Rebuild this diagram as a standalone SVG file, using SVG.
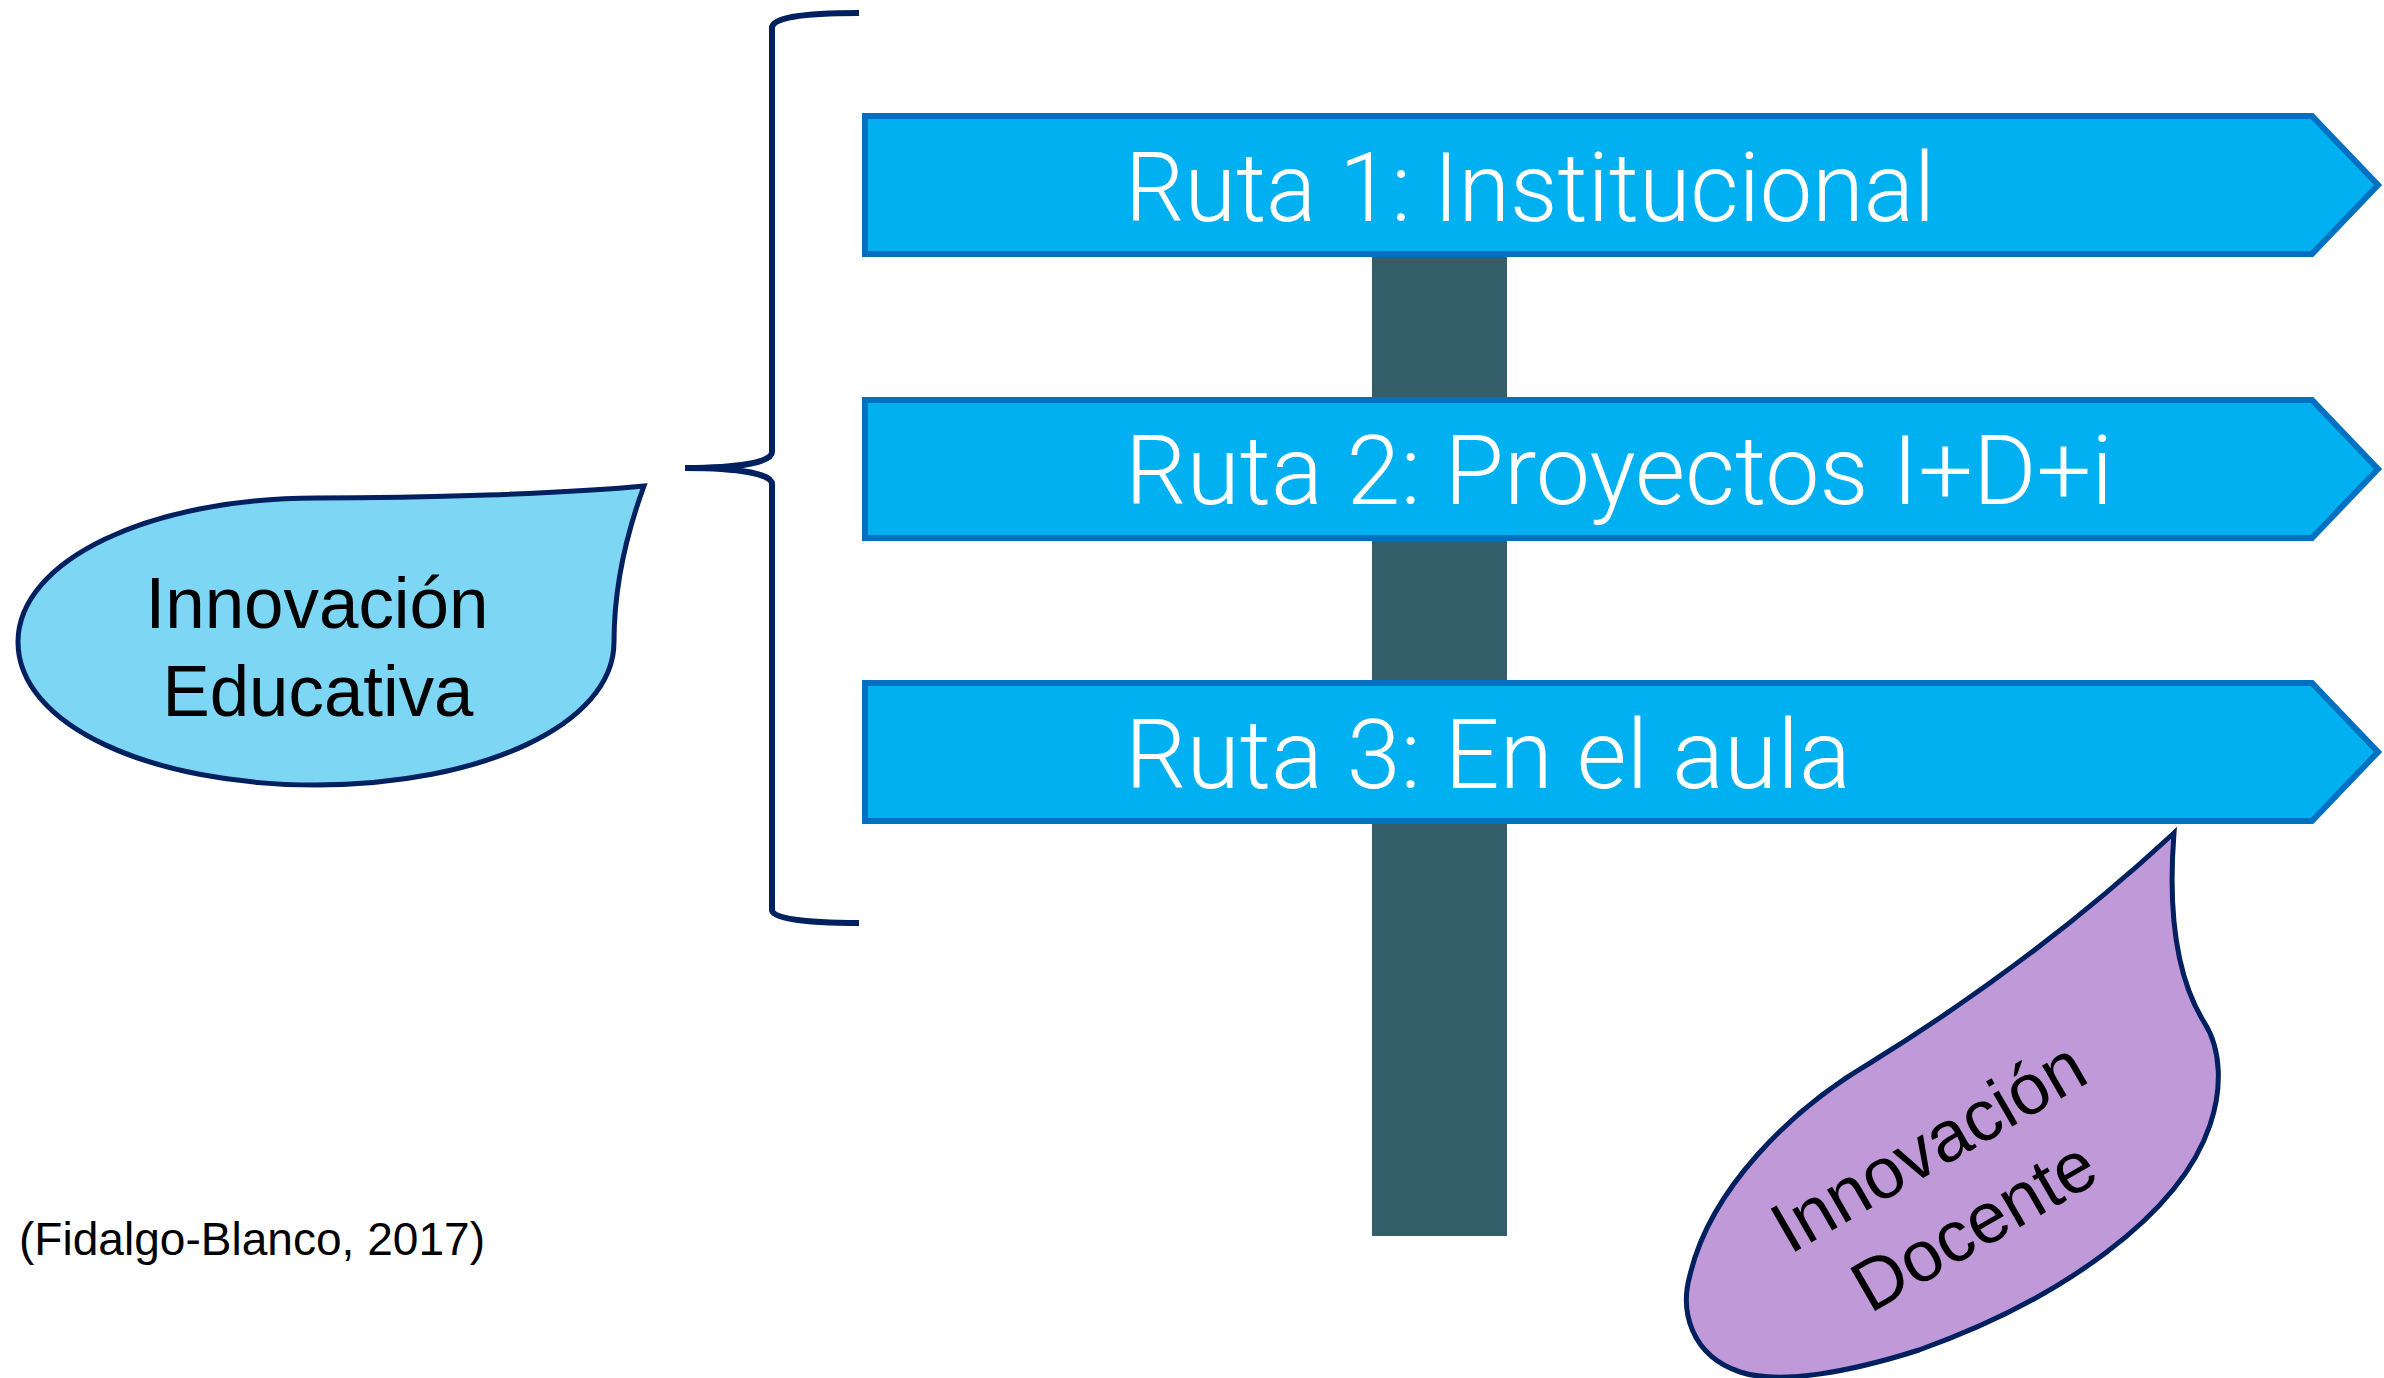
<svg xmlns="http://www.w3.org/2000/svg" width="2384" height="1378" viewBox="0 0 2384 1378">
<style>
.sign{fill:#00B0F0;stroke:#0070C0;stroke-width:6;stroke-linejoin:miter}
.signtxt{font-family:Roboto,"Liberation Sans",sans-serif;font-weight:300;font-size:96px;fill:#FFFFFF}
.bubble{stroke:#002060;stroke-width:5;stroke-linejoin:miter}
.btxt{font-family:"Liberation Sans",Arial,sans-serif;font-size:72px;fill:#000000;text-anchor:middle}
.brace{fill:none;stroke:#002060;stroke-width:6;stroke-linecap:butt}
</style>
<rect width="2384" height="1378" fill="#FFFFFF"/>
<g id="post">
<rect x="1372" y="250" width="135" height="986" fill="#335E6A"/>
</g>
<g id="ruta1">
<polygon class="sign" points="865,116 2312,116 2378,185 2312,254 865,254"/>
<text class="signtxt" x="1125" y="221" textLength="810" lengthAdjust="spacingAndGlyphs">Ruta 1: Institucional</text>
</g>
<g id="ruta2">
<polygon class="sign" points="865,400 2312,400 2378,469 2312,538 865,538"/>
<text class="signtxt" x="1125" y="504" textLength="988" lengthAdjust="spacingAndGlyphs">Ruta 2: Proyectos I+D+i</text>
</g>
<g id="ruta3">
<polygon class="sign" points="865,683 2312,683 2378,752 2312,821 865,821"/>
<text class="signtxt" x="1125" y="788" textLength="726" lengthAdjust="spacingAndGlyphs">Ruta 3: En el aula</text>
</g>
<g id="connectors">
<path class="brace" d="M 859 13 C 800 13, 772 18, 772 28 L 772 452 C 772 462, 740 468, 685 468 C 740 468, 772 474, 772 484 L 772 910 C 772 918, 800 923, 859 923"/>
</g>
<g id="innovacion-educativa">
<path class="bubble" fill="#7DD6F3" d="M 644 486 C 560 494, 420 498, 316 498 C 150 498, 18 560, 18 642 C 18 725, 150 785, 316 785 C 480 785, 614 725, 614 642 C 614 590, 626 535, 644 486 Z"/>
<text class="btxt" x="317" y="628" textLength="343" lengthAdjust="spacingAndGlyphs">Innovación</text>
<text class="btxt" x="318" y="716" textLength="311" lengthAdjust="spacingAndGlyphs">Educativa</text>
</g>
<g id="innovacion-docente">
<path class="bubble" fill="#C09AD8" d="M 2174 833 C 2168 910, 2175 975, 2204 1022 C 2222 1050, 2222 1090, 2210 1125 C 2180 1215, 2060 1300, 1919 1350 C 1850 1372, 1780 1385, 1740 1372 C 1690 1355, 1680 1310, 1690 1275 C 1710 1190, 1790 1110, 1870 1063 C 1980 995, 2080 920, 2174 833 Z"/>
<g transform="translate(1963,1207) rotate(-30)">
<text class="btxt" x="0" y="-45" font-size="74">Innovación</text>
<text class="btxt" x="0" y="46" font-size="74">Docente</text>
</g>
</g>
<g id="cita">
<text x="19" y="1255" font-family="Liberation Sans, Arial, sans-serif" font-size="46" fill="#000000" textLength="466" lengthAdjust="spacingAndGlyphs">(Fidalgo-Blanco, 2017)</text>
</g>
</svg>
